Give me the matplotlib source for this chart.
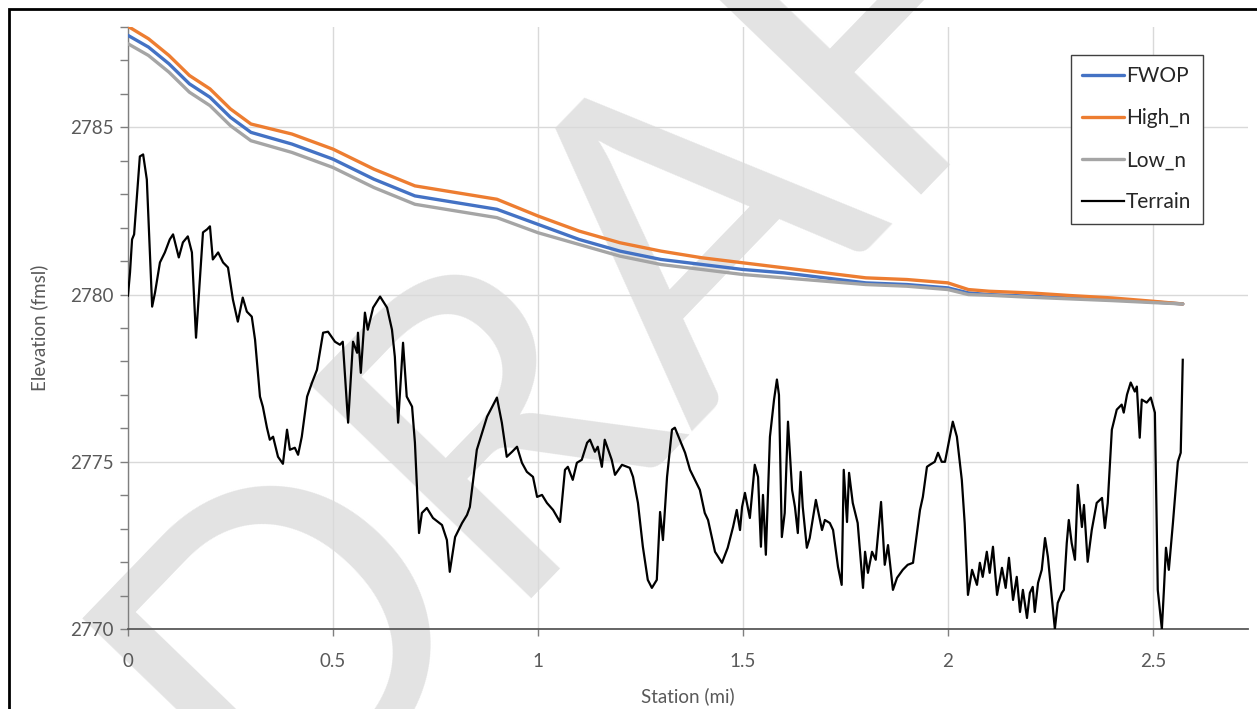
from pathlib import Path

import matplotlib.pyplot as plt
from matplotlib.patches import Rectangle
from matplotlib.ticker import FixedLocator, MultipleLocator


OUTPUT_FILE = Path(
    "out.png"
)

FONT_FAMILY = ["Lato", "DejaVu Sans"]
TEXT_COLOR = "#595959"

# Water surface profiles (station in miles, elevation in ft msl)
WSE_STATION = [
    0.00, 0.05, 0.10, 0.15, 0.20, 0.25, 0.30, 0.40, 0.50, 0.60,
    0.70, 0.80, 0.90, 1.00, 1.10, 1.20, 1.30, 1.40, 1.50, 1.60,
    1.70, 1.80, 1.90, 2.00, 2.05, 2.10, 2.20, 2.30, 2.40, 2.50,
    2.573,
]

FWOP = [
    2787.75, 2787.40, 2786.90, 2786.30, 2785.90, 2785.30, 2784.85,
    2784.50, 2784.05, 2783.45, 2782.95, 2782.75, 2782.55, 2782.10,
    2781.65, 2781.30, 2781.05, 2780.90, 2780.75, 2780.65, 2780.50,
    2780.35, 2780.30, 2780.20, 2780.05, 2780.00, 2779.95, 2779.90,
    2779.85, 2779.78, 2779.72,
]

HIGH_N = [
    2788.02, 2787.65, 2787.15, 2786.55, 2786.15, 2785.55, 2785.10,
    2784.80, 2784.35, 2783.75, 2783.25, 2783.05, 2782.85, 2782.35,
    2781.90, 2781.55, 2781.30, 2781.10, 2780.95, 2780.80, 2780.65,
    2780.50, 2780.45, 2780.35, 2780.15, 2780.10, 2780.05, 2779.97,
    2779.90, 2779.80, 2779.72,
]

LOW_N = [
    2787.50, 2787.15, 2786.65, 2786.05, 2785.65, 2785.05, 2784.60,
    2784.25, 2783.80, 2783.20, 2782.70, 2782.50, 2782.30, 2781.85,
    2781.50, 2781.15, 2780.90, 2780.75, 2780.60, 2780.50, 2780.40,
    2780.30, 2780.25, 2780.15, 2780.00, 2779.98, 2779.92, 2779.87,
    2779.82, 2779.76, 2779.72,
]

# Ground profile
TERRAIN_STATION = [
    0.000, 0.005, 0.010, 0.015, 0.029, 0.037, 0.046, 0.059, 0.066, 0.078,
    0.090, 0.102, 0.110, 0.124, 0.134, 0.146, 0.156, 0.166, 0.183, 0.193,
    0.200, 0.207, 0.220, 0.232, 0.244, 0.256, 0.268, 0.280, 0.290, 0.302,
    0.310, 0.322, 0.329, 0.339, 0.346, 0.354, 0.366, 0.378, 0.388, 0.395,
    0.407, 0.415, 0.424, 0.437, 0.449, 0.461, 0.476, 0.488, 0.505, 0.517,
    0.524, 0.537, 0.549, 0.559, 0.561, 0.568, 0.578, 0.585, 0.598, 0.615,
    0.632, 0.644, 0.651, 0.659, 0.671, 0.680, 0.693, 0.700, 0.710, 0.717,
    0.729, 0.744, 0.766, 0.778, 0.785, 0.798, 0.815, 0.827, 0.834, 0.851,
    0.876, 0.900, 0.912, 0.924, 0.937, 0.949, 0.961, 0.973, 0.988, 0.998,
    1.010, 1.022, 1.037, 1.054, 1.066, 1.073, 1.085, 1.095, 1.107, 1.120,
    1.127, 1.139, 1.146, 1.156, 1.163, 1.180, 1.188, 1.205, 1.224, 1.232,
    1.244, 1.256, 1.268, 1.278, 1.290, 1.298, 1.305, 1.315, 1.327, 1.334,
    1.346, 1.359, 1.371, 1.383, 1.395, 1.407, 1.415, 1.432, 1.449, 1.463,
    1.476, 1.485, 1.493, 1.498, 1.505, 1.517, 1.529, 1.537, 1.544, 1.549,
    1.556, 1.566, 1.576, 1.583, 1.588, 1.595, 1.602, 1.610, 1.620, 1.627,
    1.634, 1.641, 1.646, 1.656, 1.663, 1.678, 1.693, 1.700, 1.712, 1.720,
    1.732, 1.741, 1.746, 1.754, 1.759, 1.768, 1.780, 1.793, 1.798, 1.805,
    1.815, 1.824, 1.837, 1.846, 1.854, 1.866, 1.876, 1.890, 1.902, 1.915,
    1.932, 1.939, 1.949, 1.956, 1.968, 1.976, 1.985, 1.993, 2.012, 2.022,
    2.034, 2.041, 2.049, 2.059, 2.071, 2.078, 2.085, 2.095, 2.102, 2.110,
    2.120, 2.132, 2.141, 2.149, 2.159, 2.168, 2.176, 2.183, 2.193, 2.200,
    2.207, 2.212, 2.220, 2.229, 2.237, 2.244, 2.251, 2.261, 2.268, 2.278,
    2.283, 2.290, 2.295, 2.302, 2.310, 2.317, 2.327, 2.332, 2.341, 2.351,
    2.363, 2.376, 2.383, 2.390, 2.400, 2.412, 2.424, 2.429, 2.437, 2.446,
    2.456, 2.461, 2.468, 2.473, 2.485, 2.495, 2.505, 2.512, 2.522, 2.527,
    2.532, 2.539, 2.549, 2.561, 2.568, 2.573,
]

TERRAIN = [
    2779.97, 2780.66, 2781.65, 2781.80, 2784.13, 2784.19, 2783.44, 2779.64, 2780.06, 2780.96,
    2781.26, 2781.65, 2781.80, 2781.11, 2781.56, 2781.74, 2781.26, 2778.71, 2781.86, 2781.95,
    2782.04, 2781.05, 2781.26, 2780.96, 2780.81, 2779.85, 2779.19, 2779.91, 2779.49, 2779.34,
    2778.65, 2776.95, 2776.65, 2776.02, 2775.66, 2775.75, 2775.15, 2774.94, 2775.96, 2775.36,
    2775.42, 2775.21, 2775.75, 2776.95, 2777.37, 2777.75, 2778.86, 2778.89, 2778.59, 2778.50,
    2778.59, 2776.17, 2778.59, 2778.26, 2778.86, 2777.66, 2779.46, 2778.95, 2779.61, 2779.94,
    2779.61, 2778.95, 2778.14, 2776.17, 2778.56, 2776.95, 2776.65, 2775.57, 2772.87, 2773.47,
    2773.62, 2773.32, 2773.11, 2772.66, 2771.71, 2772.75, 2773.17, 2773.41, 2773.65, 2775.36,
    2776.35, 2776.92, 2776.17, 2775.15, 2775.30, 2775.45, 2774.97, 2774.70, 2774.55, 2773.95,
    2774.01, 2773.77, 2773.56, 2773.20, 2774.76, 2774.85, 2774.46, 2774.97, 2775.06, 2775.57,
    2775.66, 2775.30, 2775.45, 2774.85, 2775.66, 2775.06, 2774.61, 2774.91, 2774.82, 2774.55,
    2773.77, 2772.46, 2771.47, 2771.23, 2771.47, 2773.50, 2772.66, 2774.55, 2775.96, 2776.02,
    2775.66, 2775.27, 2774.76, 2774.46, 2774.16, 2773.47, 2773.26, 2772.31, 2771.98, 2772.43,
    2773.05, 2773.56, 2772.96, 2773.65, 2774.07, 2773.32, 2774.91, 2774.55, 2772.46, 2774.01,
    2772.22, 2775.75, 2776.86, 2777.46, 2777.00, 2772.75, 2773.47, 2776.20, 2774.16, 2773.65,
    2772.87, 2774.70, 2773.65, 2772.43, 2772.72, 2773.86, 2772.96, 2773.26, 2773.17, 2772.96,
    2771.86, 2771.32, 2774.76, 2773.20, 2774.67, 2773.77, 2773.17, 2771.23, 2772.31, 2771.68,
    2772.31, 2772.07, 2773.80, 2771.92, 2772.51, 2771.17, 2771.53, 2771.77, 2771.92, 2771.98,
    2773.56, 2773.95, 2774.85, 2774.91, 2775.00, 2775.27, 2775.00, 2775.00, 2776.20, 2775.75,
    2774.46, 2773.17, 2771.02, 2771.77, 2771.32, 2771.98, 2771.56, 2772.31, 2771.68, 2772.46,
    2771.02, 2771.83, 2771.23, 2772.13, 2770.87, 2771.56, 2770.51, 2771.17, 2770.33, 2771.08,
    2771.26, 2770.51, 2771.38, 2771.77, 2772.72, 2772.16, 2771.26, 2770.00, 2770.78, 2771.08,
    2771.17, 2772.57, 2773.26, 2772.57, 2772.07, 2774.31, 2773.05, 2773.71, 2772.01, 2772.96,
    2773.77, 2773.92, 2773.02, 2773.77, 2775.96, 2776.56, 2776.71, 2776.47, 2777.01, 2777.37,
    2777.10, 2777.25, 2775.72, 2776.86, 2776.77, 2776.92, 2776.47, 2771.17, 2770.00, 2771.17,
    2772.43, 2771.77, 2773.17, 2775.00, 2775.27, 2778.05,
]

SERIES_LABELS = ["FWOP", "High_n", "Low_n", "Terrain"]
SERIES_COLORS = ["#4472C4", "#ED7D31", "#A5A5A5", "#000000"]

X_TICKS = [0, 0.5, 1, 1.5, 2, 2.5]
X_TICK_LABELS = ["0", "0.5", "1", "1.5", "2", "2.5"]
Y_TICKS = [2770, 2775, 2780, 2785]

X_LIMITS = (0, 2.732)
Y_LIMITS = (2770, 2788)


def draw_watermark(
    figure: plt.Figure,
) -> None:
    """Big grey DRAFT stamp behind the chart."""

    # anchored at the baseline start, which lies below the figure
    figure.text(
        0.2116,
        -0.175,
        "DRAFT",
        rotation=46,
        rotation_mode="anchor",
        fontsize=310,
        family=FONT_FAMILY,
        color="#e3e3e3",
        ha="left",
        va="baseline",
        zorder=0,
    )


def draw_frame(
    figure: plt.Figure,
) -> None:
    """Outer black border (only left and top edges are visible)."""

    figure.patches.append(
        Rectangle(
            (8.5 / 1257, -0.1),
            1.2,
            1.1 - 8.5 / 709,
            transform=figure.transFigure,
            fill=False,
            edgecolor="black",
            linewidth=2.0,
            zorder=5,
        )
    )


def style_axes(
    axes: plt.Axes,
) -> None:
    """Excel-like axes, ticks and grid."""

    axes.set_xlim(*X_LIMITS)
    axes.set_ylim(*Y_LIMITS)

    axes.xaxis.set_major_locator(
        FixedLocator(X_TICKS)
    )
    axes.set_xticklabels(
        X_TICK_LABELS
    )

    axes.yaxis.set_major_locator(
        FixedLocator(Y_TICKS)
    )
    axes.yaxis.set_minor_locator(
        MultipleLocator(1)
    )

    axes.grid(
        True,
        which="major",
        color="#d9d9d9",
        linewidth=1.0,
        zorder=0,
    )
    axes.set_axisbelow(True)

    for side in ["top", "right"]:
        axes.spines[side].set_visible(False)

    axes.spines["left"].set_color("#7f7f7f")
    axes.spines["bottom"].set_color("#595959")
    axes.spines["left"].set_linewidth(1.0)
    axes.spines["bottom"].set_linewidth(1.3)

    axes.tick_params(
        axis="both",
        which="both",
        direction="out",
        colors="#7f7f7f",
        labelcolor=TEXT_COLOR,
        labelsize=13.5,
        width=1.0,
    )
    axes.tick_params(
        axis="y",
        which="both",
        length=6,
        pad=4,
    )
    axes.tick_params(
        axis="x",
        which="major",
        length=5,
        pad=12,
    )

    for label in axes.get_xticklabels() + axes.get_yticklabels():
        label.set_family(FONT_FAMILY)

    axes.set_xlabel(
        "Station (mi)",
        fontsize=13.5,
        family=FONT_FAMILY,
        color=TEXT_COLOR,
        labelpad=13,
    )

    axes.set_ylabel(
        "Elevation (fmsl)",
        fontsize=13.5,
        family=FONT_FAMILY,
        color=TEXT_COLOR,
        labelpad=16,
    )


def main() -> None:
    """Draw the water surface profile chart."""

    figure = plt.figure(
        figsize=(12.57, 7.09),
        dpi=100,
    )

    draw_watermark(figure)
    draw_frame(figure)

    axes = figure.add_axes(
        [0.1018, 0.1128, 0.8910, 0.8491]
    )
    axes.patch.set_alpha(0)
    axes.set_zorder(1)

    profiles = [FWOP, HIGH_N, LOW_N]

    for values, label, color in zip(
        profiles,
        SERIES_LABELS[:3],
        SERIES_COLORS[:3],
    ):
        axes.plot(
            WSE_STATION,
            values,
            color=color,
            linewidth=2.4,
            label=label,
            solid_capstyle="round",
            solid_joinstyle="round",
            zorder=3,
        )

    axes.plot(
        TERRAIN_STATION,
        TERRAIN,
        color=SERIES_COLORS[3],
        linewidth=1.6,
        label=SERIES_LABELS[3],
        zorder=4,
    )

    style_axes(axes)

    legend = axes.legend(
        loc="upper left",
        bbox_to_anchor=(0.842, 0.9535),
        frameon=True,
        fancybox=False,
        edgecolor="#404040",
        framealpha=1.0,
        prop={"family": FONT_FAMILY, "size": 15},
        handlelength=2.0,
        handletextpad=0.1,
        labelspacing=1.05,
        borderpad=0.55,
        borderaxespad=0,
    )
    legend.get_frame().set_linewidth(1.0)
    for text in legend.get_texts():
        text.set_color("#262626")
    legend.set_zorder(6)

    figure.savefig(
        OUTPUT_FILE,
        dpi=100,
    )

    plt.close(figure)


if __name__ == "__main__":
    main()
